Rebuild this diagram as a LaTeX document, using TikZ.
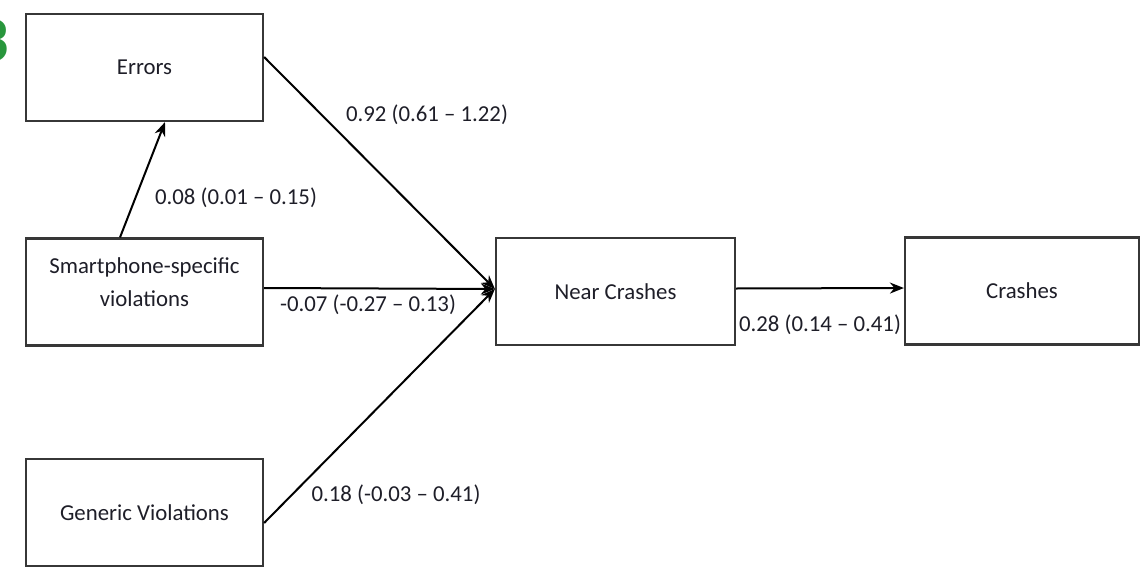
\documentclass[tikz,border=0pt]{standalone}
\usepackage{fontspec}
\setmainfont{Carlito}
\usetikzlibrary{arrows.meta}
\definecolor{boxline}{RGB}{55,55,55}
\definecolor{txt}{RGB}{30,30,40}
\definecolor{figgreen}{RGB}{40,150,60}
\begin{document}
\begin{tikzpicture}[x=1pt,y=-1pt,
  box/.style={draw=boxline,line width=2.2pt,fill=white,minimum width=237pt,minimum height=107pt,inner sep=0pt,
              font=\fontsize{22.8}{27}\selectfont,text=txt,align=center},
  path/.style={line width=2pt,draw=black,-{Stealth[length=14pt,width=11pt]}},
  coef/.style={font=\fontsize{22.8}{27}\selectfont,text=txt,inner sep=0pt}]
\useasboundingbox (0,0) rectangle (1140,570);

% panel number at the left margin
\node[anchor=east,inner sep=0pt,text=figgreen,font=\fontsize{64}{70}\selectfont\bfseries] (num) at (9,41) {3};

% constructs
\node[box] (err) at (144.5,67.5) {Errors};
\node[box] (sp)  at (144.5,292) {};
\node[coef,align=center,font=\fontsize{22.8}{33}\selectfont] (sptext) at (144.5,282) {Smartphone-specific\\violations};
\node[box] (gv)  at (144.5,512.5) {Generic Violations};
\node[box,minimum width=239pt] (nc) at (615.5,291.5) {Near Crashes};
\node[box,minimum width=234pt] (cr) at (1022,291) {Crashes};

% paths
\draw[path] ([xshift=-24.5pt]sp.north) -- ([xshift=20.5pt]err.south);
\draw[path] ([yshift=10.5pt]err.east) -- ([yshift=2.5pt]nc.west);
\draw[path] ([yshift=4pt]sp.east) -- ([yshift=2.5pt]nc.west);
\draw[path] ([yshift=-10.5pt]gv.east) -- ([yshift=2.5pt]nc.west);
\draw[path] ([yshift=3pt]nc.east) -- ([yshift=3pt]cr.west);

% path coefficients
\node[coef] (c1) at (427,115) {0.92 (0.61 – 1.22)};
\node[coef] (c2) at (236,198) {0.08 (0.01 – 0.15)};
\node[coef] (c3) at (368,305) {-0.07 (-0.27 – 0.13)};
\node[coef] (c4) at (820,325) {0.28 (0.14 – 0.41)};
\node[coef] (c5) at (396,495) {0.18 (-0.03 – 0.41)};
\end{tikzpicture}
\end{document}
